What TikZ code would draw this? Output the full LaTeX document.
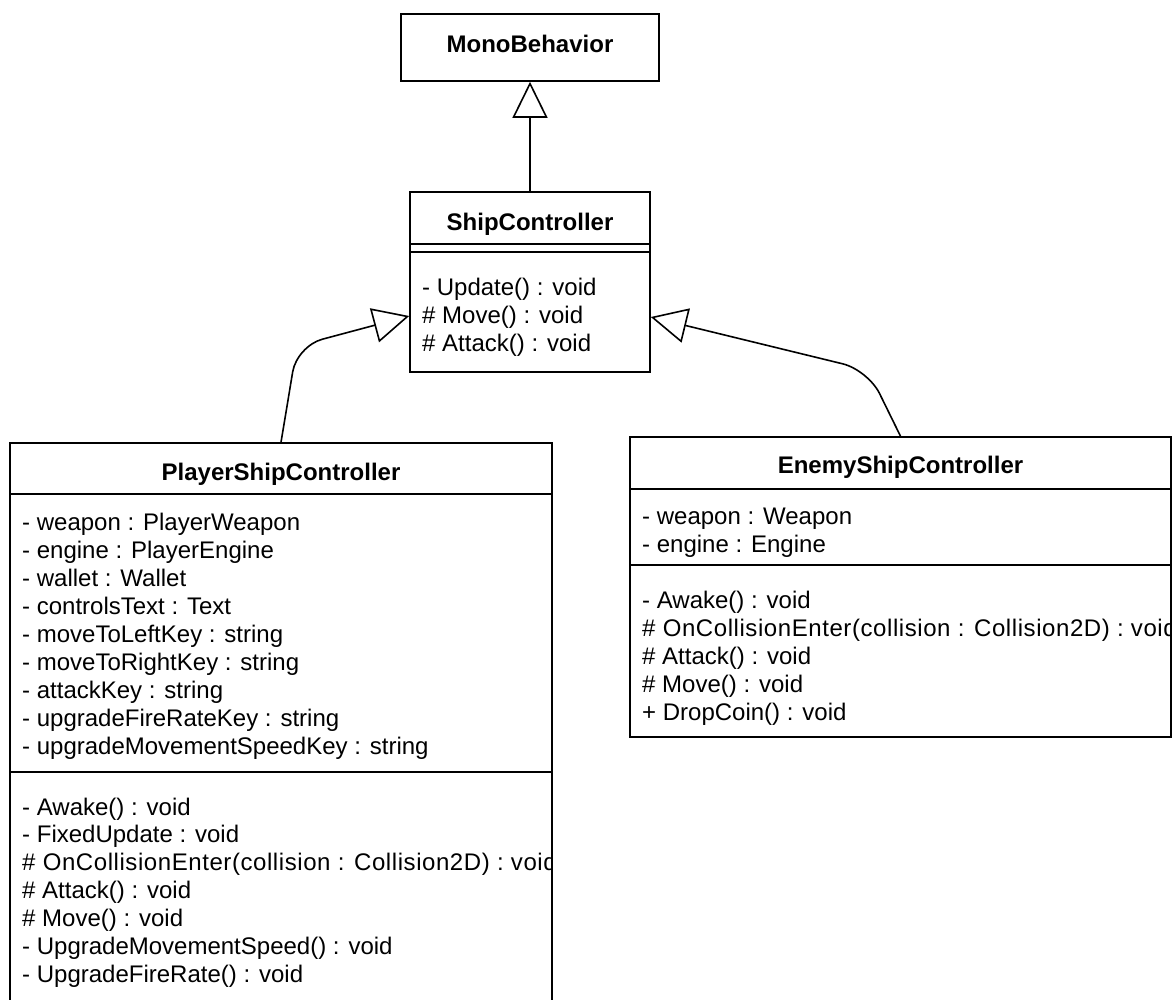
\documentclass[tikz,border=0pt]{standalone}
\usepackage{fontspec}
\usetikzlibrary{arrows.meta}
\newfontfamily\umlsans{Liberation Sans}
\newfontfamily\umlwide[LetterSpace=2.4]{Liberation Sans}
\tikzset{
  classbox/.style={draw=black, line width=1.6pt, fill=white, rectangle, inner sep=0pt},
  member/.style={inner sep=0pt, anchor=base west, font=\umlsans\fontsize{24}{28}\selectfont},
  title/.style={inner sep=0pt, anchor=base, font=\umlsans\bfseries\fontsize{24}{28}\selectfont},
  compline/.style={line width=1.6pt, draw=black},
  inherit/.style={line width=1.6pt, draw=black, rounded corners=26pt,
    -{Triangle[open, length=36pt, width=35pt, line width=1.6pt]}}
}
\begin{document}
\begin{tikzpicture}[x=1pt, y=-1pt]
\clip (0,0) rectangle (1173,999);
\fill[white] (0,0) rectangle (1173,999);

% class boxes
\node[classbox, minimum width=258pt, minimum height=67pt] (mono) at (530,47.5) {};
\node[classbox, minimum width=240pt, minimum height=180pt] (ship) at (530,282) {};
\node[classbox, minimum width=542pt, minimum height=580pt] (player) at (281,733) {};
\node[classbox, minimum width=541pt, minimum height=300pt] (enemy) at (900.5,587) {};

% compartment separators
\draw[compline] (ship.west |- 0,244) -- (ship.east |- 0,244);
\draw[compline] (ship.west |- 0,252) -- (ship.east |- 0,252);
\draw[compline] (player.west |- 0,494) -- (player.east |- 0,494);
\draw[compline] (player.west |- 0,772) -- (player.east |- 0,772);
\draw[compline] (enemy.west |- 0,489) -- (enemy.east |- 0,489);
\draw[compline] (enemy.west |- 0,565) -- (enemy.east |- 0,565);

% titles
\node[title] (monoT) at (530,52) {MonoBehavior};
\node[title] (shipT) at (530,230) {ShipController};
\node[title] (playerT) at (281,480) {PlayerShipController};
\node[title] (enemyT) at (900.5,473.5) {EnemyShipController};

% ShipController operations
\foreach \t [count=\i from 0] in {{- Update() : void},{\# Move() : void},{\# Attack() : void}}
  \node[member] (shipM\i) at (422,{295.5+28*\i}) {\t};

% PlayerShipController members
\begin{scope}
\clip ([xshift=0.8pt,yshift=-0.8pt]player.north west) rectangle ([xshift=-0.8pt]player.south east);
\foreach \t [count=\i from 0] in {
  {- weapon : PlayerWeapon},
  {- engine : PlayerEngine},
  {- wallet : Wallet},
  {- controlsText : Text},
  {- moveToLeftKey : string},
  {- moveToRightKey : string},
  {- attackKey : string},
  {- upgradeFireRateKey : string},
  {- upgradeMovementSpeedKey : string}}
  \node[member] (playerA\i) at (22,{530.5+28*\i}) {\t};
\foreach \t [count=\i from 0] in {
  {- Awake() : void},
  {- FixedUpdate : void},
  {\umlwide\# OnCollisionEnter(collision : Collision2D) : void},
  {\# Attack() : void},
  {\# Move() : void},
  {- UpgradeMovementSpeed() : void},
  {- UpgradeFireRate() : void}}
  \node[member] (playerM\i) at (22,{815+27.9*\i}) {\t};
\end{scope}

% EnemyShipController members
\begin{scope}
\clip ([xshift=0.8pt,yshift=-0.8pt]enemy.north west) rectangle ([xshift=-0.8pt,yshift=0.8pt]enemy.south east);
\foreach \t [count=\i from 0] in {
  {- weapon : Weapon},
  {- engine : Engine}}
  \node[member] (enemyA\i) at (642,{524.5+28*\i}) {\t};
\foreach \t [count=\i from 0] in {
  {- Awake() : void},
  {\umlwide\# OnCollisionEnter(collision : Collision2D) : void},
  {\# Attack() : void},
  {\# Move() : void},
  {+ DropCoin() : void}}
  \node[member] (enemyM\i) at (642,{608.5+28*\i}) {\t};
\end{scope}

% generalisation connectors
\coordinate (bendL) at (297,346);
\coordinate (bendR) at (868,370);
\draw[inherit] (ship.north) -- (mono.south);
\draw[inherit] (player.north) -- (bendL) -- ([yshift=-34pt]ship.west);
\draw[inherit] (enemy.north) -- (bendR) -- ([yshift=-35pt]ship.east);
\end{tikzpicture}
\end{document}
